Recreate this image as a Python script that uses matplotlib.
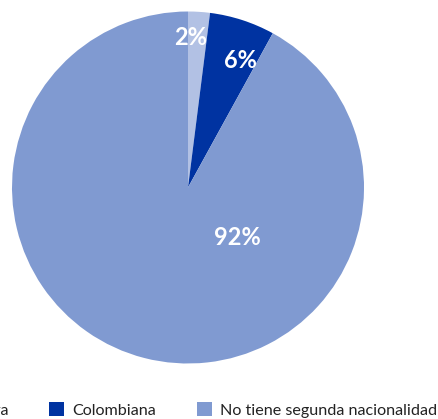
import matplotlib.pyplot as plt
import numpy as np

plt.rcParams['font.family'] = ['Lato', 'DejaVu Sans']

# Data
categories = ['Otra', 'Colombiana', 'No tiene segunda nacionalidad']
shares = [2, 6, 92]
colors = ['#B2C1E4', '#0033A1', '#809AD1']

# label placement (angle in degrees, radius as fraction of pie radius)
label_angles = [89, 67.5, -45]
label_radii = [0.85, 0.78, 0.40]

W, H = 439, 419
fig = plt.figure(figsize=(W / 100, H / 100), dpi=100)
ax = fig.add_axes([12 / W, (H - 363.5) / H, 352 / W, 352 / H])

wedges, _ = ax.pie(shares, colors=colors, startangle=90, counterclock=False,
                   radius=1, wedgeprops=dict(linewidth=0))
ax.set_xlim(-1, 1)
ax.set_ylim(-1, 1)
ax.set_aspect('equal')
ax.axis('off')

for val, ang, r in zip(shares, label_angles, label_radii):
    a = np.deg2rad(ang)
    ax.text(r * np.cos(a), r * np.sin(a), f'{val}%', ha='center', va='center',
            color='white', fontsize=17, fontweight='bold')

leg = fig.legend(wedges, categories, ncol=3, loc='center right',
                 bbox_to_anchor=(437 / W, 9 / H), frameon=False,
                 fontsize=11.6, borderpad=0, borderaxespad=0,
                 handlelength=0.95, handleheight=0.95, handletextpad=0.5,
                 columnspacing=2.5)
for t in leg.get_texts():
    t.set_color('#222222')

fig.savefig('out.png', dpi=100, facecolor='white')
